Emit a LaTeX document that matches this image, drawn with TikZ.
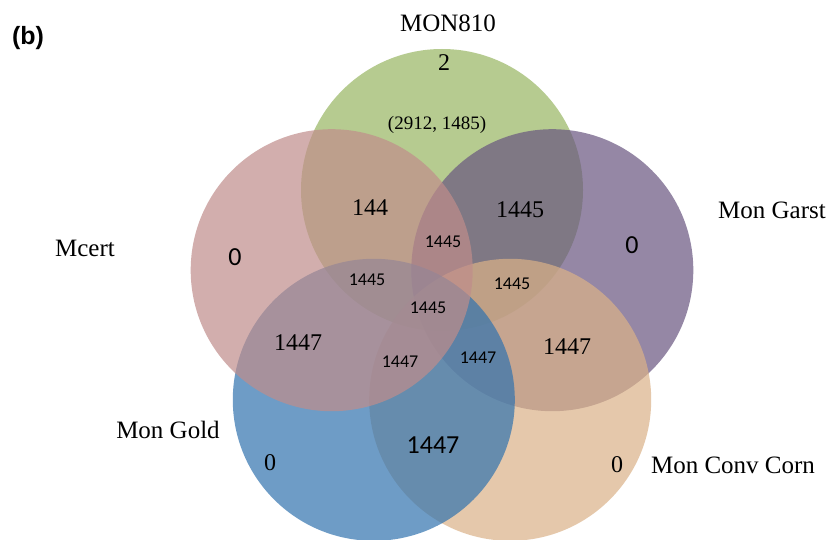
\documentclass[tikz,border=0pt]{standalone}
\usepackage{fontspec}
\setmainfont{Liberation Serif}
\newfontfamily\calib{Carlito}
\newfontfamily\arialb{Liberation Sans}
\definecolor{cgreen}{RGB}{152,182,98}
\definecolor{cpink}{RGB}{192,141,139}
\definecolor{cpurple}{RGB}{104,85,128}
\definecolor{cblue}{RGB}{49,115,175}
\definecolor{corange}{RGB}{219,178,136}
\begin{document}
\begin{tikzpicture}[x=1pt,y=-1pt,
  setc/.style={circle, inner sep=0pt, minimum size=282pt, fill opacity=0.7, draw=none},
  lab/.style={inner sep=0pt, font=\fontsize{25}{28}\selectfont},
  serifnum/.style={inner sep=0pt, font=\fontsize{24}{28}\selectfont},
  sansbig/.style={inner sep=0pt, font=\calib\fontsize{26}{28}\selectfont},
  sanssmall/.style={inner sep=0pt, font=\calib\fontsize{18}{20}\selectfont}]
\path[use as bounding box, fill=white] (0,0) rectangle (840,540);
% circles (draw order matters for colour mixing)
\node[setc, fill=cgreen]  (cGreen)  at (442,190) {};
\node[setc, fill=cpurple] (cPurple) at (552.3,270.2) {};
\node[setc, fill=corange] (cOrange) at (510.2,399.8) {};
\node[setc, fill=cblue]   (cBlue)   at (373.8,399.8) {};
\node[setc, fill=cpink]   (cPink)   at (331.7,270.2) {};
% title
\node[inner sep=0pt, font=\arialb\bfseries\fontsize{25}{28}\selectfont] (tb) at (28,38) {(b)};
% set labels
\node[lab] (lMON) at (448,23) {MON810};
\node[lab] (lMcert) at (85,248) {Mcert};
\node[lab] (lGarst) at (772,210) {Mon Garst};
\node[lab] (lGold) at (168,430) {Mon Gold};
\node[lab] (lConv) at (733,465) {Mon Conv Corn};
% counts
\node[serifnum] (n2) at (444,63) {2};
\node[inner sep=0pt, font=\fontsize{19}{22}\selectfont] (npair) at (437,125) {(2912, 1485)};
\node[serifnum] (n144) at (370,208) {144};
\node[serifnum] (n1445a) at (520,210) {1445};
\node[sansbig] (n0a) at (235,257) {0};
\node[sansbig] (n0b) at (632,245) {0};
\node[sanssmall] (s1) at (443,242) {1445};
\node[sanssmall] (s2) at (367,280) {1445};
\node[sanssmall] (s3) at (428,308) {1445};
\node[sanssmall] (s4) at (512,284) {1445};
\node[sanssmall] (s5) at (400,362) {1447};
\node[sanssmall] (s6) at (478,358) {1447};
\node[serifnum] (n1447a) at (298,343) {1447};
\node[serifnum] (n1447b) at (567,347) {1447};
\node[sansbig] (n1447c) at (433,445) {1447};
\node[serifnum] (n0c) at (270,463) {0};
\node[serifnum] (n0d) at (617,465) {0};
\end{tikzpicture}
\end{document}
